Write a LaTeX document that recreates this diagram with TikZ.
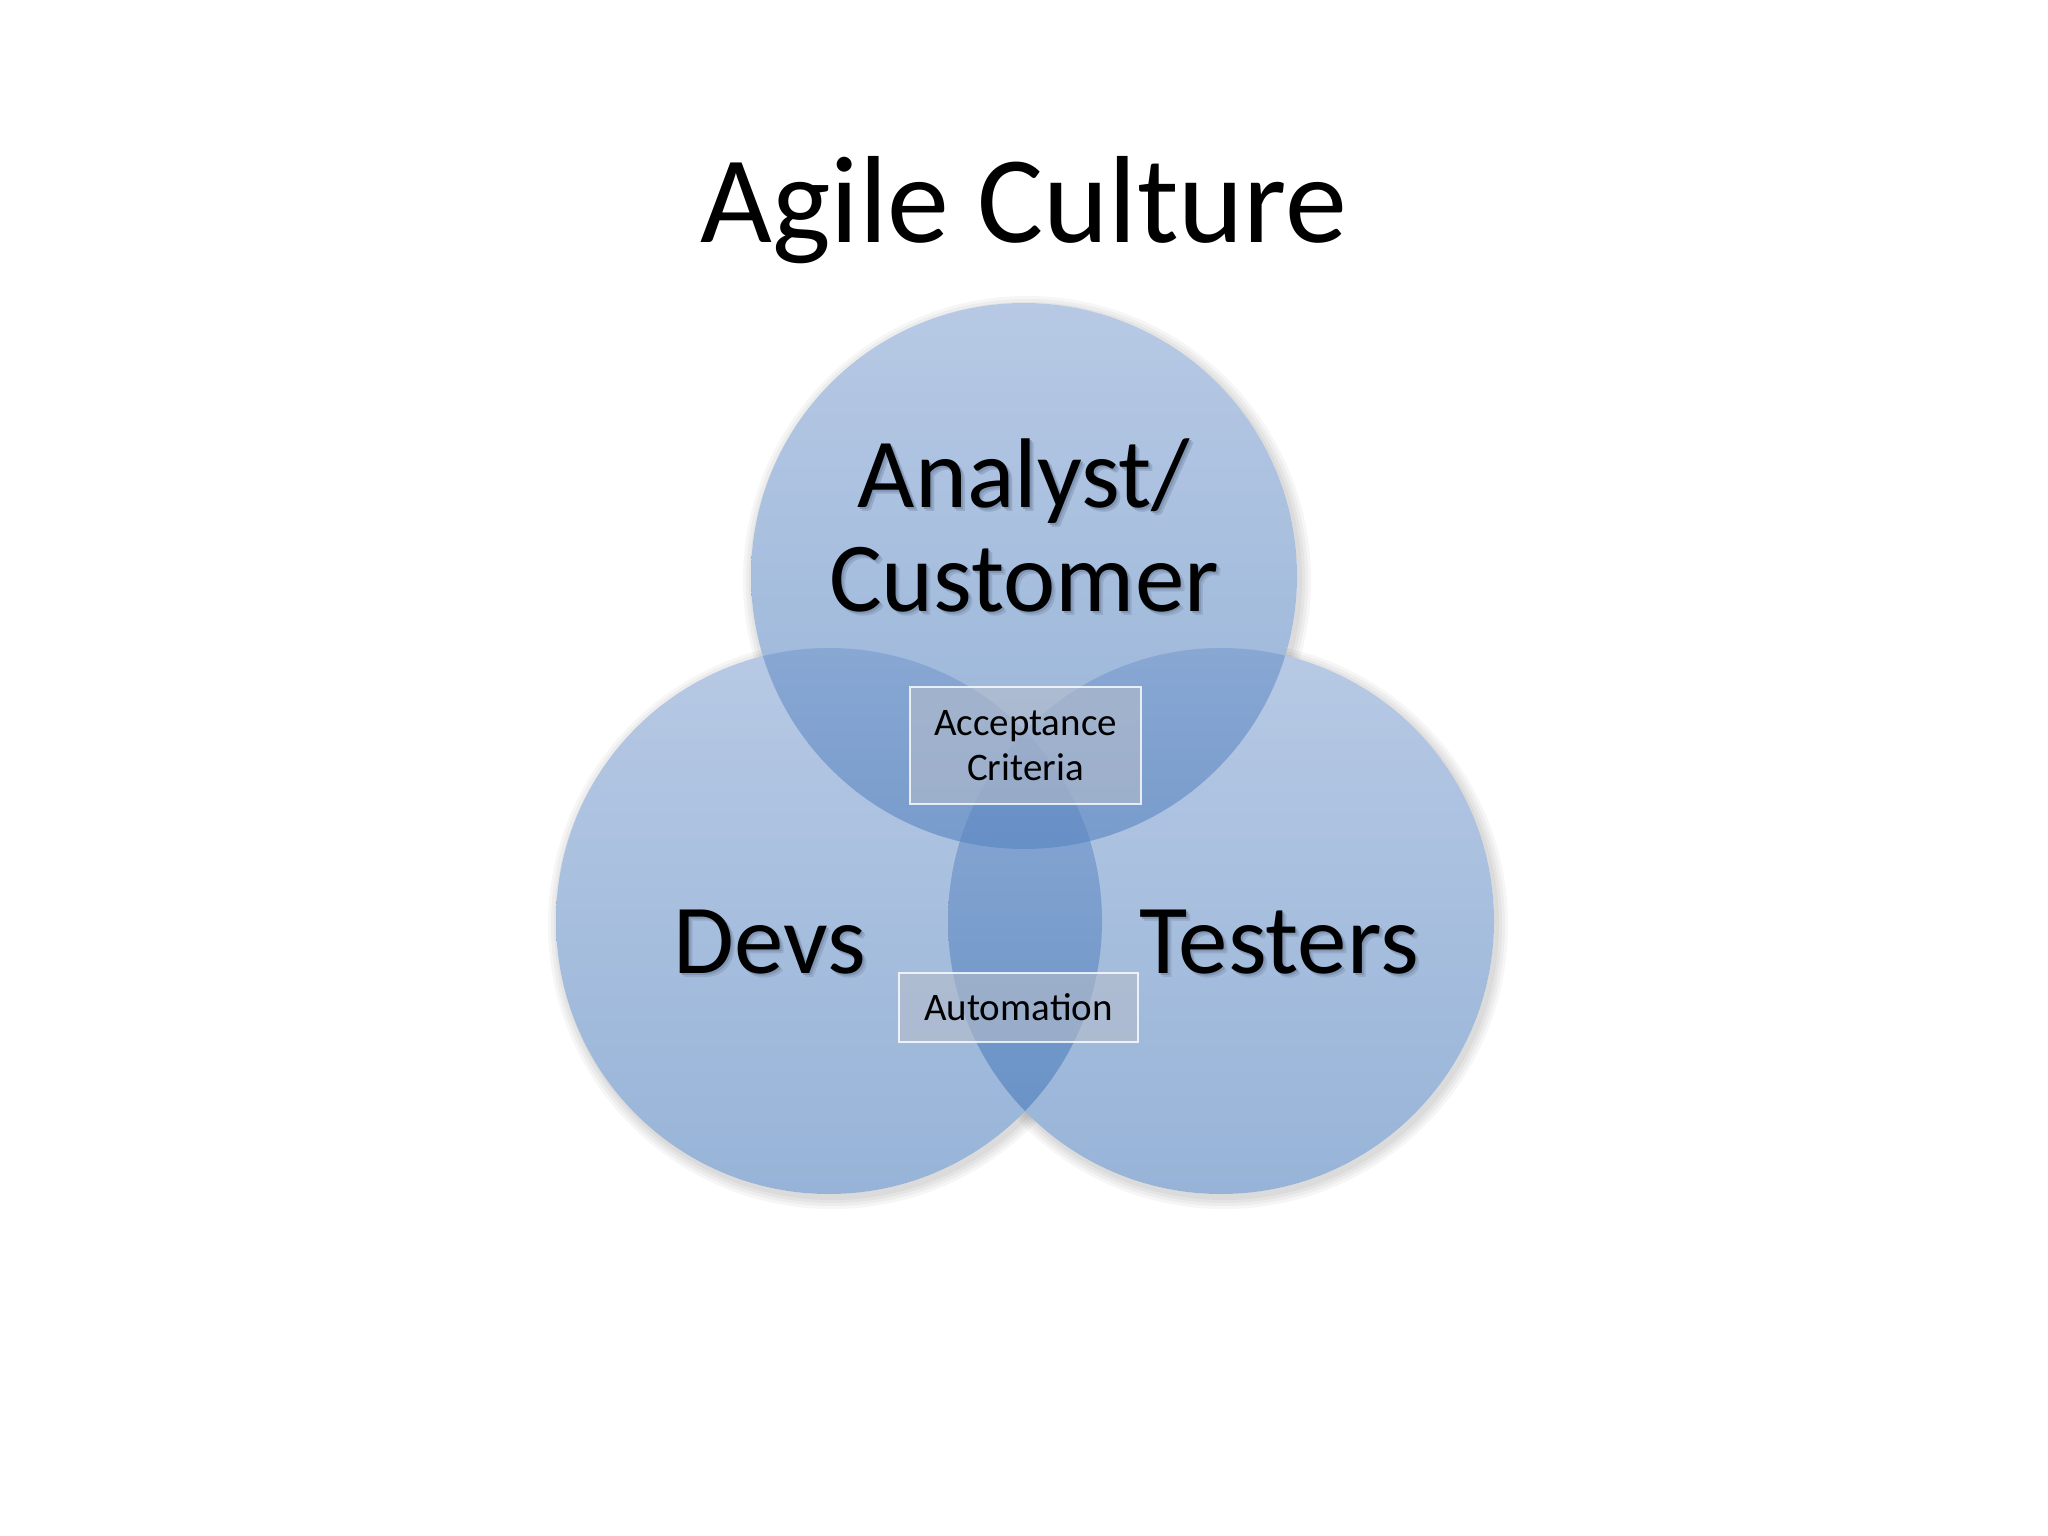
\documentclass[tikz,border=0pt]{standalone}
\usepackage{fontspec}
\setmainfont{Carlito}
\definecolor{circtop}{RGB}{112,148,203}
\definecolor{circbot}{RGB}{48,106,178}
\definecolor{boxfill}{RGB}{180,188,202}
\definecolor{shadowa}{RGB}{128,150,182}
\definecolor{shadowb}{RGB}{150,170,200}
\newcommand{\shd}[1]{\leavevmode\rlap{\kern4pt\raisebox{-4pt}{\color{shadowb}#1}}\rlap{\kern2pt\raisebox{-2pt}{\color{shadowa}#1}}#1}
\tikzset{
  venn/.style={circle, inner sep=0pt, minimum size=546pt, top color=circtop, bottom color=circbot, fill opacity=0.5, draw=none},
  bigtext/.style={inner sep=0pt, text=black, font=\fontsize{99}{104}\selectfont, align=center},
  smallbox/.style={draw=white, line width=2pt, draw opacity=0.8, fill=boxfill, fill opacity=0.6, text opacity=1, inner sep=0pt, text=black, font=\fontsize{39}{45}\selectfont, align=center},
  cshadow/.style={fill=black, fill opacity=0.035},
}
\begin{document}
\begin{tikzpicture}[x=1pt,y=-1pt]
\useasboundingbox (0,0) rectangle (2048,1536);
\fill[white] (0,0) rectangle (2048,1536);
% title
\node[inner sep=0pt, anchor=base, font=\fontsize{124}{130}\selectfont] (title) at (1024,242) {Agile Culture};
% soft shadows outside the circles
\begin{scope}[even odd rule]
\clip (-10,-10) rectangle (2060,1550) (1024,576) circle (273);
\begin{scope}[even odd rule]
\clip (-10,-10) rectangle (2060,1550) (829,921) circle (273);
\begin{scope}[even odd rule]
\clip (-10,-10) rectangle (2060,1550) (1221,921) circle (273);
\foreach \r in {275,278,281,284}{
  \fill[cshadow] (1027,580) circle (\r);
  \fill[cshadow] (832,925) circle (\r);
  \fill[cshadow] (1224,925) circle (\r);
}
\end{scope}
\end{scope}
\end{scope}
% circles
\node[venn] (analyst) at (1024,576) {};
\node[venn] (devs) at (829,921) {};
\node[venn] (testers) at (1221,921) {};
% boxes
\node[smallbox, minimum width=231pt, minimum height=117pt] (accept) at (1025.5,745.5) {Acceptance\\Criteria};
\node[smallbox, minimum width=239pt, minimum height=69pt] (auto) at (1018.5,1007.5) {Automation};
% labels
\node[bigtext, anchor=base] (lanalyst) at (1024,611) {\shd{Analyst/}\\\shd{Customer}};
\node[bigtext, anchor=base] (ldevs) at (770,973) {\shd{Devs}};
\node[bigtext, anchor=base] (ltesters) at (1279,973) {\shd{Testers}};
\end{tikzpicture}
\end{document}
